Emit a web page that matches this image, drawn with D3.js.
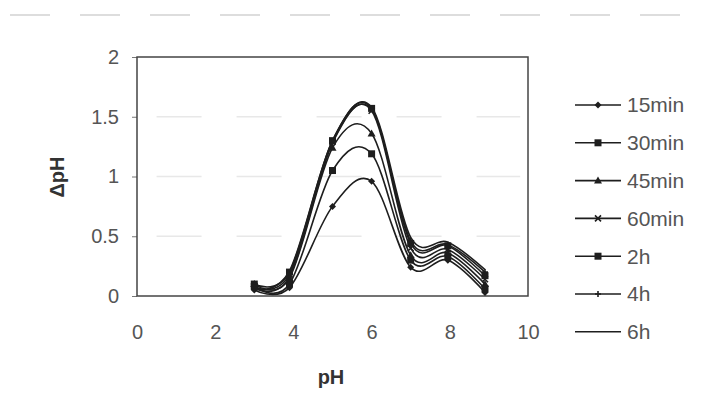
<!DOCTYPE html>
<html>
<head>
<meta charset="utf-8">
<script src="https://cdn.jsdelivr.net/npm/d3@7"></script>
<style>
  html, body { margin: 0; padding: 0; background: #fff; }
  svg { display: block; font-family: "Liberation Sans", Arial, sans-serif; }
</style>
</head>
<body>
<svg id="chart" width="702" height="414"></svg>
<script>
// ---- data ----
const phValues = [3, 3.9, 5, 6, 7, 7.95, 8.9];
const seriesNames = ["15min", "30min", "45min", "60min", "2h", "4h", "6h"];
const s15min = [0.05, 0.07, 0.75, 0.96, 0.24, 0.30, 0.03];
const s30min = [0.08, 0.10, 1.05, 1.19, 0.30, 0.33, 0.06];
const s45min = [0.10, 0.15, 1.24, 1.36, 0.34, 0.36, 0.10];
const s60min = [0.08, 0.18, 1.29, 1.55, 0.40, 0.39, 0.14];
const s2h    = [0.10, 0.20, 1.30, 1.57, 0.44, 0.42, 0.17];
const s4h    = [0.07, 0.16, 1.28, 1.56, 0.46, 0.43, 0.20];
const s6h    = [0.06, 0.21, 1.30, 1.58, 0.49, 0.45, 0.22];
const seriesValues = [s15min, s30min, s45min, s60min, s2h, s4h, s6h];
const markerTypes = ["diamond", "square", "triangle", "cross", "square", "plus", "none"];
const xTicks = [0, 2, 4, 6, 8, 10];
const yTicks = [0, 0.5, 1, 1.5, 2];
const xTitle = "pH";
const yTitle = "ΔpH";

// ---- layout ----
const svg = d3.select("#chart");
const L = 137, R = 528, T = 57, B = 296;
const x = d3.scaleLinear().domain([0, 10]).range([L, R]);
const y = d3.scaleLinear().domain([0, 2]).range([B, T]);
const ink = "#1e1e1e";

// faint scan artifacts / gridlines
svg.append("line").attr("x1", 10).attr("x2", 700).attr("y1", 15).attr("y2", 15)
  .attr("stroke", "#ddd").attr("stroke-width", 2).attr("stroke-dasharray", "40,30");
svg.append("g").selectAll("line").data([0.5, 1, 1.5]).join("line")
  .attr("x1", x(0.5)).attr("x2", x(9.8))
  .attr("y1", d => y(d)).attr("y2", d => y(d))
  .attr("stroke", "#e8e8e8").attr("stroke-width", 1.5).attr("stroke-dasharray", "45,35");

// axes
const yAxis = d3.axisLeft(y).tickValues(yTicks).tickSize(5).tickPadding(13)
  .tickFormat(d => String(d));
const xAxis = d3.axisBottom(x).tickValues(xTicks).tickSize(0).tickPadding(29)
  .tickFormat(d => String(d));
const gy = svg.append("g").attr("transform", `translate(${L},0)`).call(yAxis);
const gx = svg.append("g").attr("transform", `translate(0,${B})`).call(xAxis);
[gx, gy].forEach(g => {
  g.select(".domain").remove();
  g.selectAll("text").attr("fill", "#555").style("font-size", "20px");
  g.selectAll("line").attr("stroke", "#777");
});

// plot frame
svg.append("rect").attr("x", L).attr("y", T).attr("width", R - L).attr("height", B - T)
  .attr("fill", "none").attr("stroke", "#444").attr("stroke-width", 1.5);

// axis titles
svg.append("text").attr("x", 331).attr("y", 384).attr("text-anchor", "middle")
  .attr("fill", "#333").style("font-size", "20px").style("font-weight", "bold").text(xTitle);
svg.append("text").attr("transform", "translate(64,177) rotate(-90)")
  .attr("text-anchor", "middle").attr("fill", "#333")
  .style("font-size", "20px").style("font-weight", "bold").text(yTitle);

// marker drawing
function drawMarker(g, type, cx, cy) {
  const m = g.append("g").attr("transform", `translate(${cx},${cy})`);
  if (type === "diamond") m.append("path").attr("d", "M0,-3.5L3.5,0L0,3.5L-3.5,0Z").attr("fill", ink);
  else if (type === "square") m.append("rect").attr("x", -3.5).attr("y", -3.5).attr("width", 7).attr("height", 7).attr("fill", ink);
  else if (type === "triangle") m.append("path").attr("d", "M0,-4L4,3L-4,3Z").attr("fill", ink);
  else if (type === "cross") m.append("path").attr("d", "M-3,-3L3,3M-3,3L3,-3").attr("stroke", ink).attr("stroke-width", 1.6);
  else if (type === "plus") m.append("path").attr("d", "M-3,0L3,0M0,-3L0,3").attr("stroke", ink).attr("stroke-width", 1.6);
}

// series
const line = d3.line().x(d => x(d[0])).y(d => y(d[1])).curve(d3.curveCardinal.tension(0));
const gs = svg.append("g");
seriesValues.forEach((vals, i) => {
  const pts = phValues.map((p, k) => [p, vals[k]]);
  gs.append("path").datum(pts).attr("d", line)
    .attr("fill", "none").attr("stroke", ink).attr("stroke-width", 1.6);
  pts.forEach(p => drawMarker(gs, markerTypes[i], x(p[0]), y(p[1])));
});

// legend
const lg = svg.append("g");
seriesNames.forEach((name, i) => {
  const ly = 105 + i * 37.8;
  lg.append("line").attr("x1", 575).attr("x2", 621).attr("y1", ly).attr("y2", ly)
    .attr("stroke", ink).attr("stroke-width", 1.6);
  drawMarker(lg, markerTypes[i], 598, ly);
  lg.append("text").attr("x", 627).attr("y", ly).attr("dy", "0.35em")
    .attr("fill", "#555").style("font-size", "21px").text(name);
});
</script>
</body>
</html>
